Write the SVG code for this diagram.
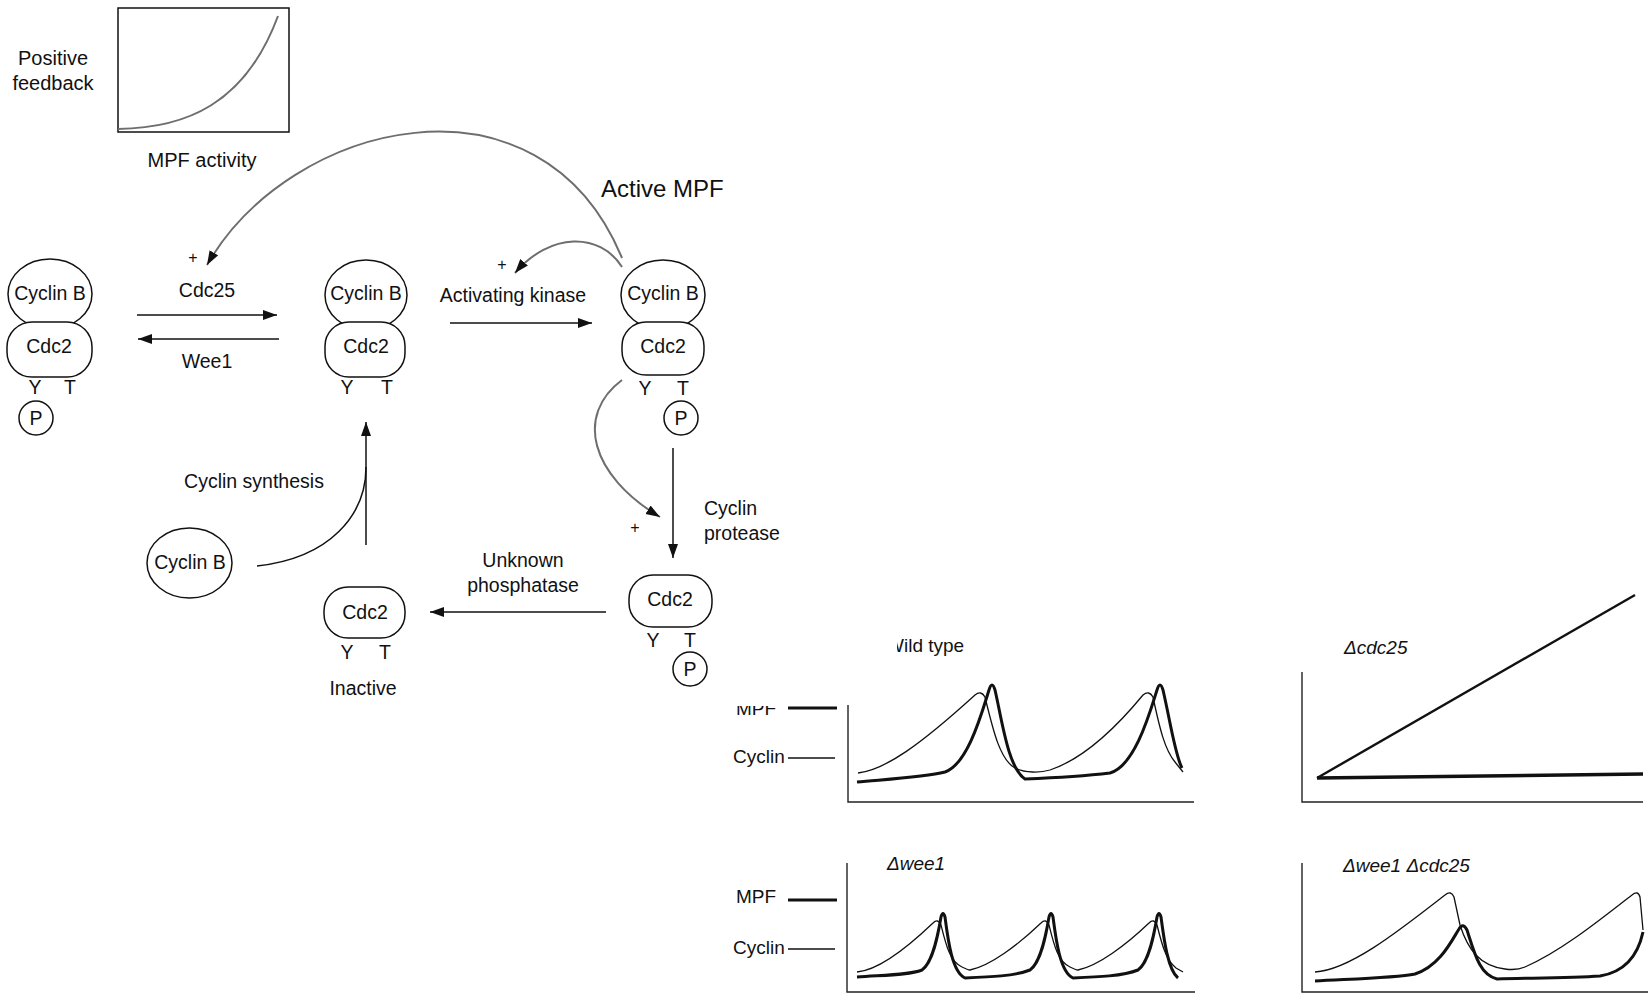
<svg xmlns="http://www.w3.org/2000/svg" width="1649" height="994" viewBox="0 0 1649 994">
<style>
text{font-family:"Liberation Sans",Arial,sans-serif;fill:#111;font-size:19.5px}
.mid{text-anchor:middle}
.it{font-style:italic;font-size:19px}
.sh{fill:#fff;stroke:#111;stroke-width:1.5}
.ln{fill:none;stroke:#111;stroke-width:1.5}
.gr{fill:none;stroke:#6e6e6e;stroke-width:2}
.thin{fill:none;stroke:#111;stroke-width:1.3;stroke-linejoin:round}
.thick{fill:none;stroke:#111;stroke-width:3;stroke-linejoin:round}
.ax{fill:none;stroke:#222;stroke-width:1.4}
</style>
<defs>
<marker id="ah" markerUnits="userSpaceOnUse" markerWidth="16" markerHeight="12" refX="14" refY="5" orient="auto">
<path d="M0,0 L14,5 L0,10 z" fill="#111"/>
</marker>
<clipPath id="cm"><rect x="700" y="706" width="100" height="30"/></clipPath>
<clipPath id="cw"><rect x="897" y="620" width="120" height="50"/></clipPath>
</defs>

<g id="feedback-plot">
<text x="53" y="65" class="mid" style="font-size:20px">Positive</text>
<text x="53" y="90" class="mid" style="font-size:20px">feedback</text>
<rect x="118" y="8" width="171" height="124" fill="none" stroke="#111" stroke-width="1.5"/>
<path d="M118,129 C185,128 245,105 278,16" class="gr"/>
<text x="202" y="167" class="mid" style="font-size:20px">MPF activity</text>
</g>

<text id="active-mpf" x="601" y="197" style="font-size:24px">Active MPF</text>

<g id="node-pY">
<ellipse cx="50" cy="294" rx="42" ry="35" class="sh"/>
<rect x="7" y="322" width="85" height="55" rx="25" class="sh"/>
<text x="50" y="300" class="mid">Cyclin B</text>
<text x="49" y="353" class="mid">Cdc2</text>
<text x="35" y="394" class="mid">Y</text>
<text x="70" y="394" class="mid">T</text>
<circle cx="36" cy="418" r="17" class="sh"/>
<text x="36" y="425" class="mid">P</text>
</g>

<g id="node-unphos">
<ellipse cx="366" cy="295" rx="41" ry="35" class="sh"/>
<rect x="325" y="322" width="80" height="55" rx="24" class="sh"/>
<text x="366" y="300" class="mid">Cyclin B</text>
<text x="366" y="353" class="mid">Cdc2</text>
<text x="347" y="394" class="mid">Y</text>
<text x="387" y="394" class="mid">T</text>
</g>

<g id="node-active">
<ellipse cx="663" cy="295" rx="42" ry="35" class="sh"/>
<rect x="622" y="322" width="82" height="53" rx="24" class="sh"/>
<text x="663" y="300" class="mid">Cyclin B</text>
<text x="663" y="353" class="mid">Cdc2</text>
<text x="645" y="395" class="mid">Y</text>
<text x="683" y="395" class="mid">T</text>
<circle cx="681" cy="418" r="17" class="sh"/>
<text x="681" y="425" class="mid">P</text>
</g>

<g id="node-cdc2-pT">
<rect x="629" y="575" width="83" height="52" rx="24" class="sh"/>
<text x="670" y="606" class="mid">Cdc2</text>
<text x="653" y="647" class="mid">Y</text>
<text x="690" y="647" class="mid">T</text>
<circle cx="690" cy="669" r="17" class="sh"/>
<text x="690" y="676" class="mid">P</text>
</g>

<g id="node-inactive">
<rect x="324" y="587" width="81" height="51" rx="24" class="sh"/>
<text x="365" y="619" class="mid">Cdc2</text>
<text x="347" y="659" class="mid">Y</text>
<text x="385" y="659" class="mid">T</text>
<text x="363" y="695" class="mid">Inactive</text>
</g>

<g id="node-cyclinB-free">
<ellipse cx="189.5" cy="563" rx="42.5" ry="35" class="sh"/>
<text x="190" y="569" class="mid">Cyclin B</text>
</g>

<g id="connectors">
<path d="M137,315 L277,315" class="ln" marker-end="url(#ah)"/>
<path d="M279,339 L138,339" class="ln" marker-end="url(#ah)"/>
<path d="M450,323 L592,323" class="ln" marker-end="url(#ah)"/>
<path d="M673,448 L673,558" class="ln" marker-end="url(#ah)"/>
<path d="M606,612 L430,612" class="ln" marker-end="url(#ah)"/>
<path d="M366,545 L366,422" class="ln" marker-end="url(#ah)"/>
<path d="M257,566 C330,558 366,515 366,467" class="ln"/>
<path d="M622,258 C540,60 290,120 207,265" class="gr" marker-end="url(#ah)"/>
<path d="M622,267 C600,232 550,232 515,273" class="gr" marker-end="url(#ah)"/>
<path d="M622,380 C575,415 590,475 660,517" class="gr" marker-end="url(#ah)"/>
</g>

<g id="labels">
<text x="193" y="263" class="mid" style="font-size:16px">+</text>
<text x="207" y="297" class="mid">Cdc25</text>
<text x="207" y="368" class="mid">Wee1</text>
<text x="502" y="270" class="mid" style="font-size:16px">+</text>
<text x="513" y="302" class="mid">Activating kinase</text>
<text x="635" y="533" class="mid" style="font-size:16px">+</text>
<text x="704" y="515">Cyclin</text>
<text x="704" y="540">protease</text>
<text x="523" y="567" class="mid">Unknown</text>
<text x="523" y="592" class="mid">phosphatase</text>
<text x="254" y="488" class="mid">Cyclin synthesis</text>
</g>

<g id="chart-wildtype">
<text x="886" y="652" clip-path="url(#cw)" style="font-size:19px">Wild type</text>
<text x="736" y="715" clip-path="url(#cm)" style="font-size:19px">MPF</text>
<line x1="788" y1="708" x2="837" y2="708" stroke="#111" stroke-width="3"/>
<text x="733" y="763" style="font-size:19px">Cyclin</text>
<line x1="788" y1="758" x2="835" y2="758" stroke="#111" stroke-width="1.3"/>
<path d="M848,705 L848,802 L1194,802" class="ax"/>
<path d="M858,773 C885,770 920,745 975,695 Q981,690 985,697 C993,730 1000,760 1015,768 C1025,773 1040,773 1050,770 C1080,760 1110,735 1143,695 Q1149,690 1153,697 C1160,730 1165,750 1175,762 L1183,772" class="thin"/>
<path d="M857,782 C890,779 925,777 945,772 C968,764 982,712 989,690 Q992,680 995,690 C1002,720 1008,768 1025,779 C1050,778 1085,776 1110,773 C1135,766 1150,712 1157,690 Q1160,680 1163,690 C1170,720 1175,755 1182,768" class="thick"/>
</g>

<g id="chart-dcdc25">
<text x="1344" y="654" class="it">Δcdc25</text>
<path d="M1302,672 L1302,802 L1643,802" class="ax"/>
<path d="M1317,778 L1635,595" fill="none" stroke="#111" stroke-width="2.4"/>
<path d="M1317,778 L1643,774" fill="none" stroke="#111" stroke-width="3.5"/>
</g>

<g id="chart-dwee1">
<text x="887" y="870" class="it">Δwee1</text>
<text x="736" y="903" style="font-size:19px">MPF</text>
<line x1="788" y1="900" x2="837" y2="900" stroke="#111" stroke-width="3"/>
<text x="733" y="954" style="font-size:19px">Cyclin</text>
<line x1="788" y1="949" x2="835" y2="949" stroke="#111" stroke-width="1.3"/>
<path d="M847,863 L847,992 L1195,992" class="ax"/>
<path d="M857,972 C880,970 910,945 933,923 Q938,918 941,925 C946,945 950,962 962,967 C966,969 968,970 970,970 C990,966 1018,945 1041,923 Q1046,918 1049,925 C1054,945 1058,962 1070,967 C1074,969 1076,970 1078,970 C1098,966 1126,945 1149,923 Q1154,918 1157,925 C1162,945 1166,960 1176,968 L1183,972" class="thin"/>
<path d="M857,977 C885,975 910,975 922,970 C933,962 938,935 941,917 Q943,910 945,917 C948,940 952,972 965,978 C990,977 1015,976 1030,970 C1041,962 1046,935 1049,917 Q1051,910 1053,917 C1056,940 1060,972 1073,978 C1098,977 1123,976 1138,970 C1149,962 1154,935 1157,917 Q1159,910 1161,917 C1164,940 1168,970 1178,978" class="thick"/>
</g>

<g id="chart-dwee1-dcdc25">
<text x="1343" y="872" class="it">Δwee1 Δcdc25</text>
<path d="M1302,863 L1302,992 L1648,992" class="ax"/>
<path d="M1315,972 C1350,970 1400,930 1445,895 Q1451,890 1454,897 L1460,925 C1468,950 1480,966 1505,969 C1512,970 1518,970 1525,967 C1560,952 1600,920 1632,895 Q1638,890 1640,897 L1643,930" class="thin"/>
<path d="M1315,981 C1350,979 1395,978 1415,974 C1440,966 1452,940 1459,929 Q1463,922 1467,930 C1475,955 1480,975 1497,979 C1530,978 1570,978 1600,976 C1625,972 1638,955 1643,932" class="thick"/>
</g>
</svg>
